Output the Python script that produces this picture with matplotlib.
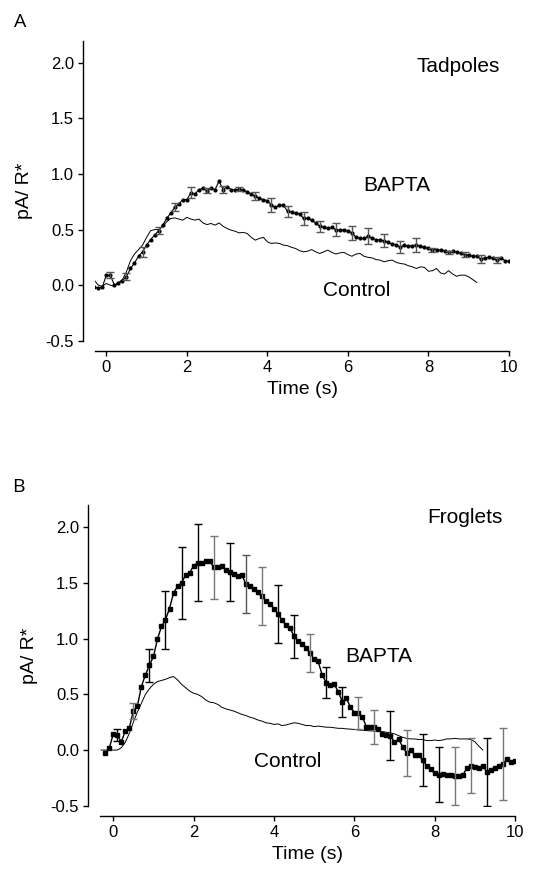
import numpy as np
import matplotlib
matplotlib.use('Agg')
import matplotlib.pyplot as plt

# ---- data (pA/R*), sampled every 0.1 s ----
DT = 0.1

# Panel A: tadpoles
tadBaptaT0 = -0.3
tadBapta = [-0.02, -0.025, -0.02, 0.09, 0.09, 0.0, 0.02, 0.04, 0.075, 0.15,
            0.20, 0.26, 0.30, 0.36, 0.41, 0.45, 0.49, 0.54, 0.60, 0.65,
            0.70, 0.73, 0.77, 0.77, 0.83, 0.82, 0.86, 0.87, 0.85, 0.87,
            0.86, 0.935, 0.86, 0.885, 0.86, 0.855, 0.865, 0.855, 0.84, 0.82,
            0.80, 0.78, 0.77, 0.76, 0.72, 0.70, 0.72, 0.72, 0.665, 0.66,
            0.645, 0.64, 0.60, 0.60, 0.585, 0.56, 0.53, 0.52, 0.51, 0.52,
            0.50, 0.495, 0.50, 0.49, 0.47, 0.43, 0.42, 0.42, 0.44, 0.42,
            0.41, 0.405, 0.40, 0.385, 0.37, 0.365, 0.34, 0.36, 0.35, 0.355,
            0.36, 0.35, 0.34, 0.33, 0.315, 0.32, 0.315, 0.31, 0.295, 0.305,
            0.295, 0.29, 0.275, 0.27, 0.26, 0.26, 0.235, 0.245, 0.25, 0.24,
            0.225, 0.245, 0.22, 0.215]
tadBaptaErr = [0.025, 0.03, 0.045, 0.03, 0.035, 0.05, 0.025, 0.035, 0.02, 0.035,
               0.06, 0.05, 0.055, 0.05, 0.06, 0.065, 0.07, 0.06, 0.055, 0.06,
               0.015, 0.015, 0.02, 0.035, 0.03]
tadCtrlT0 = -0.3
tadCtrl = [0.045, 0.0, -0.01, 0.015, 0.0, -0.01, 0.02, 0.05, 0.12, 0.22,
           0.28, 0.32, 0.36, 0.43, 0.49, 0.50, 0.50, 0.53, 0.57, 0.60,
           0.605, 0.595, 0.585, 0.61, 0.595, 0.585, 0.595, 0.56, 0.545, 0.555,
           0.54, 0.56, 0.53, 0.51, 0.495, 0.485, 0.47, 0.475, 0.465, 0.43,
           0.405, 0.42, 0.43, 0.39, 0.375, 0.38, 0.375, 0.36, 0.355, 0.34,
           0.33, 0.31, 0.30, 0.305, 0.32, 0.30, 0.285, 0.30, 0.315, 0.295,
           0.28, 0.29, 0.295, 0.275, 0.26, 0.28, 0.285, 0.26, 0.25, 0.245,
           0.23, 0.225, 0.21, 0.22, 0.225, 0.205, 0.195, 0.19, 0.175, 0.165,
           0.15, 0.165, 0.16, 0.125, 0.13, 0.15, 0.11, 0.10, 0.13, 0.10,
           0.08, 0.09, 0.09, 0.075, 0.05, 0.025]

# Panel B: froglets
frogBaptaT0 = -0.2
frogBapta = [-0.03, 0.015, 0.145, 0.135, 0.075, 0.17, 0.20, 0.35, 0.395, 0.57,
             0.675, 0.76, 0.84, 0.995, 1.11, 1.17, 1.27, 1.41, 1.47, 1.50,
             1.57, 1.59, 1.655, 1.68, 1.68, 1.70, 1.70, 1.64, 1.645, 1.65,
             1.62, 1.60, 1.58, 1.565, 1.575, 1.49, 1.47, 1.445, 1.415, 1.38,
             1.34, 1.31, 1.27, 1.22, 1.17, 1.12, 1.095, 1.02, 0.98, 0.955,
             0.915, 0.87, 0.815, 0.795, 0.675, 0.605, 0.585, 0.59, 0.525, 0.435,
             0.465, 0.39, 0.335, 0.33, 0.30, 0.21, 0.21, 0.205, 0.185, 0.145,
             0.135, 0.13, 0.07, 0.10, 0.03, -0.025, 0.0, -0.045, -0.045, -0.09,
             -0.14, -0.17, -0.21, -0.22, -0.215, -0.22, -0.225, -0.235, -0.23, -0.225,
             -0.165, -0.14, -0.155, -0.165, -0.14, -0.20, -0.175, -0.165, -0.145, -0.125,
             -0.08, -0.105, -0.095]
frogBaptaErr = [0.053, 0.075, 0.15, 0.26, 0.32, 0.345, 0.28, 0.26, 0.26, 0.26,
                0.26, 0.195, 0.17, 0.14, 0.135, 0.145, 0.155, 0.218, 0.205, 0.235,
                0.245, 0.258, 0.248, 0.305, 0.32]
frogErrColor = ['k', '#777777', 'k', 'k', 'k', 'k', '#777777', 'k', '#555555', '#777777',
                'k', 'k', '#777777', 'k', 'k', '#777777', '#777777', 'k', '#777777', 'k',
                'k', '#777777', '#777777', 'k', '#777777']
frogCtrlT0 = -0.3
frogCtrl = [0.0, 0.0, 0.0, 0.0, 0.0, 0.02, 0.07, 0.15, 0.25, 0.34,
            0.42, 0.50, 0.55, 0.59, 0.615, 0.625, 0.635, 0.65, 0.66, 0.63,
            0.59, 0.56, 0.53, 0.51, 0.50, 0.48, 0.45, 0.43, 0.425, 0.41,
            0.385, 0.37, 0.36, 0.35, 0.335, 0.32, 0.31, 0.295, 0.285, 0.27,
            0.26, 0.245, 0.24, 0.23, 0.235, 0.22, 0.225, 0.235, 0.245, 0.24,
            0.23, 0.22, 0.22, 0.21, 0.215, 0.21, 0.205, 0.205, 0.20, 0.195,
            0.195, 0.19, 0.188, 0.185, 0.18, 0.178, 0.175, 0.172, 0.17, 0.168,
            0.165, 0.16, 0.155, 0.145, 0.13, 0.115, 0.105, 0.10, 0.10, 0.095,
            0.095, 0.085, 0.085, 0.09, 0.085, 0.09, 0.10, 0.10, 0.105, 0.10,
            0.10, 0.10, 0.095, 0.075, 0.035, 0.0]

yTicks = [-0.5, 0.0, 0.5, 1.0, 1.5, 2.0]
xTicks = [0, 2, 4, 6, 8, 10]

plt.rcParams['font.family'] = ['Liberation Sans', 'DejaVu Sans']


def timeAxis(t0, vals):
    return t0 + DT * np.arange(len(vals))


def styleAxes(ax, xmin):
    ax.set_xlim(xmin, 10)
    ax.set_ylim(-0.5, 2.2)
    ax.spines['top'].set_visible(False)
    ax.spines['right'].set_visible(False)
    ax.spines['left'].set_position(('outward', 8.5))
    ax.spines['bottom'].set_position(('outward', 7.5))
    for sp in ('left', 'bottom'):
        ax.spines[sp].set_linewidth(1.0)
    ax.set_yticks(yTicks)
    ax.set_yticklabels(['%.1f' % v for v in yTicks])
    ax.set_xticks(xTicks)
    ax.tick_params(direction='out', length=3.5, width=1.0, labelsize=12, pad=3)
    ax.set_xlabel('Time (s)', fontsize=14, labelpad=4)
    ax.set_ylabel('pA/ R*', fontsize=14, labelpad=9)


def drawPanel(ax, bT0, bapta, bErr, errColors, cT0, ctrl, marker, ms, lw):
    tB = timeAxis(bT0, bapta)
    tC = timeAxis(cT0, ctrl)
    ax.plot(tC, ctrl, '-', color='k', lw=0.7)
    ax.plot(tB, bapta, '-', color='k', lw=lw, marker=marker, ms=ms,
            mec='k', mfc='k')
    # error bars on every 4th point starting at t = 0.1 s
    i0 = int(round((0.1 - bT0) / DT))
    idx = np.arange(i0, len(bapta), 4)[:len(bErr)]
    for j, i in enumerate(idx):
        ax.errorbar(tB[i], bapta[i], yerr=bErr[j], fmt='none',
                    ecolor=errColors[j], elinewidth=1.0, capsize=3.2,
                    capthick=1.0)


fig = plt.figure(figsize=(5.42, 8.74), dpi=100)

# panel A
axA = fig.add_axes([0.1753, 0.6102, 0.7638, 0.3432])
drawPanel(axA, tadBaptaT0, tadBapta, tadBaptaErr, ['#555555'] * len(tadBaptaErr),
          tadCtrlT0, tadCtrl, 'o', 2.0, 0.8)
styleAxes(axA, -0.28)
axA.text(8.73, 1.97, 'Tadpoles', fontsize=15, ha='center', va='center')
axA.text(7.22, 0.90, 'BAPTA', fontsize=15, ha='center', va='center')
axA.text(6.22, -0.045, 'Control', fontsize=15, ha='center', va='center')
fig.text(20 / 542, 1 - 22 / 874, 'A', fontsize=14, ha='center', va='center',
         family=['Open Sans', 'DejaVu Sans'])

# panel B
axB = fig.add_axes([0.1845, 0.0781, 0.7657, 0.3441])
drawPanel(axB, frogBaptaT0, frogBapta, frogBaptaErr, frogErrColor,
          frogCtrlT0, frogCtrl, 's', 2.4, 1.0)
styleAxes(axB, -0.33)
axB.text(8.76, 2.09, 'Froglets', fontsize=15, ha='center', va='center')
axB.text(6.61, 0.84, 'BAPTA', fontsize=15, ha='center', va='center')
axB.text(4.35, -0.10, 'Control', fontsize=15, ha='center', va='center')
fig.text(18 / 542, 1 - 487 / 874, 'B', fontsize=14, ha='center', va='center',
         family=['Open Sans', 'DejaVu Sans'])

fig.savefig('out.png', dpi=100)
